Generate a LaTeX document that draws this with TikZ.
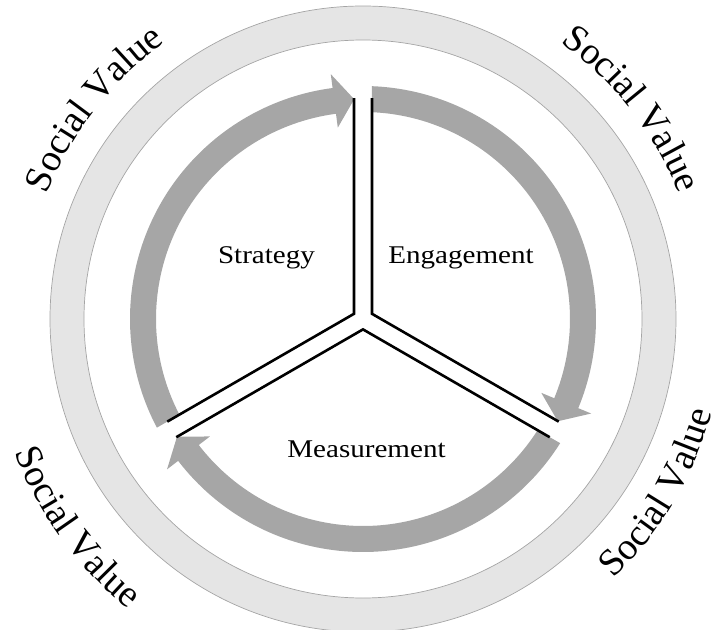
\documentclass[tikz,border=0pt]{standalone}
\usepackage{fontspec}
\setmainfont[FakeStretch=1.14]{Liberation Serif}
\newfontfamily\svfont{Liberation Serif}
\usetikzlibrary{decorations.text}
\definecolor{ringfill}{RGB}{229,229,229}
\definecolor{ringline}{RGB}{165,165,165}
\definecolor{arrowgray}{RGB}{166,166,166}
\begin{document}
\begin{tikzpicture}[
  ringstyle/.style={fill=ringfill, draw=ringline, line width=0.7pt, even odd rule},
  bandarrow/.style={fill=arrowgray, draw=none},
  spokeline/.style={draw=black, line width=2.6pt, line join=miter},
  sectorlabel/.style={font=\fontsize{25.5}{30}\selectfont, anchor=base, inner sep=0pt},
  svtext/.style={decorate, decoration={text along path, text align=center, text={|\svfont\fontsize{38}{44}\selectfont|Social Value}}}
]
\useasboundingbox (-363pt,-311pt) rectangle (353pt,319pt);
\begin{scope}
\clip (-363pt,-311pt) rectangle (353pt,319pt);
\path[ringstyle] (0,0) circle[radius=313pt] (0,0) circle[radius=279pt];
\end{scope}
% gray arrow bands
\fill[bandarrow] (207.5:207pt) arc[start angle=207.5, end angle=97.5, radius=207pt] -- (97.5:193pt) -- (92.3:220pt) -- (97.5:247pt) -- (97.5:233pt) arc[start angle=97.5, end angle=207.8, radius=233pt] -- cycle;
\fill[bandarrow] (87.5:207pt) arc[start angle=87.5, end angle=-22.5, radius=207pt] -- (-22.5:193pt) -- (-27.7:220pt) -- (-22.5:247pt) -- (-22.5:233pt) arc[start angle=-22.5, end angle=87.8, radius=233pt] -- cycle;
\fill[bandarrow] (-32.5:207pt) arc[start angle=-32.5, end angle=-142.5, radius=207pt] -- (-142.5:193pt) -- (-147.7:220pt) -- (-142.5:247pt) -- (-142.5:233pt) arc[start angle=-142.5, end angle=-32.2, radius=233pt] -- cycle;
% spokes
\coordinate (jl) at (-9pt,5.196pt);
\coordinate (jr) at (9pt,5.196pt);
\coordinate (jb) at (0pt,-10.392pt);
\coordinate (tl) at (-9pt,220.8pt);
\coordinate (tr) at (9pt,220.8pt);
\coordinate (llu) at (-195.73pt,-102.62pt);
\coordinate (lll) at (-186.73pt,-118.2pt);
\coordinate (lru) at (195.73pt,-102.62pt);
\coordinate (lrl) at (186.73pt,-118.2pt);
\draw[spokeline] (tl) -- (jl) -- (llu);
\draw[spokeline] (tr) -- (jr) -- (lru);
\draw[spokeline] (lll) -- (jb) -- (lrl);
% labels
\node[sectorlabel] (strat) at (-96.5pt,56pt) {Strategy};
\node[sectorlabel] (eng) at (98pt,56pt) {Engagement};
\node[sectorlabel] (meas) at (3.5pt,-138pt) {Measurement};
% social value
\path[svtext] (177:340pt) arc[start angle=177, end angle=107, radius=340pt];
\path[svtext] (73:340pt) arc[start angle=73, end angle=3, radius=340pt];
\path[svtext] (181:373pt) arc[start angle=181, end angle=251, radius=373pt];
\path[svtext] (-65.5:361pt) arc[start angle=-65.5, end angle=4.5, radius=361pt];
\end{tikzpicture}
\end{document}
